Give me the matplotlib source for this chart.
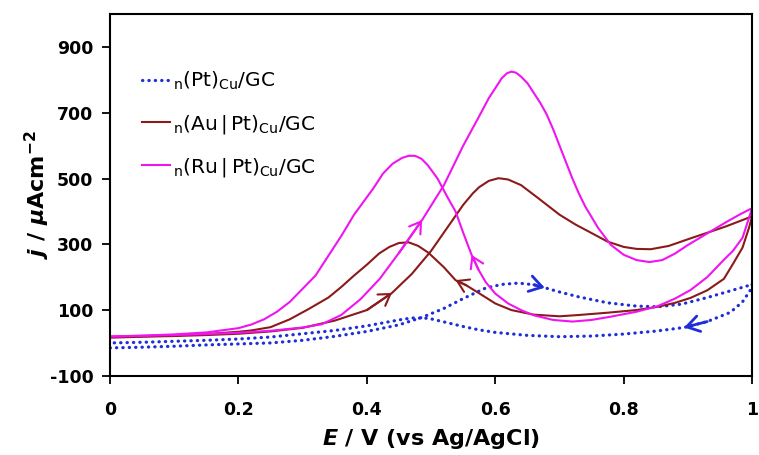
import matplotlib
matplotlib.use('Agg')
import matplotlib.pyplot as plt
from matplotlib.patches import FancyArrowPatch

plt.rcParams['font.family'] = ['DejaVu Sans']
plt.rcParams['mathtext.fontset'] = 'custom'
plt.rcParams['mathtext.rm'] = 'DejaVu Sans'
plt.rcParams['mathtext.it'] = 'DejaVu Sans:italic:bold'
plt.rcParams['mathtext.bf'] = 'DejaVu Sans:bold'
plt.rcParams['axes.unicode_minus'] = False

# ---- data ----
# n(Pt)Cu/GC
pt_fwd_E = [0.00, 0.05, 0.10, 0.15, 0.20, 0.25, 0.30, 0.35, 0.40, 0.45, 0.486, 0.52, 0.55, 0.585,
            0.61, 0.636, 0.66, 0.677, 0.70, 0.73, 0.775, 0.82, 0.853, 0.89, 0.93, 0.96, 0.99, 1.00]
pt_fwd_j = [-15, -13, -10, -6, -3, 0, 8, 20, 35, 55, 78, 105, 135, 167,
            178, 182, 177, 168, 155, 140, 122, 112, 110, 118, 138, 155, 172, 178]
pt_rev_E = [1.00, 0.997, 0.985, 0.966, 0.93, 0.894, 0.85, 0.80, 0.75, 0.70, 0.65, 0.60, 0.574,
            0.55, 0.522, 0.496, 0.47, 0.45, 0.40, 0.35, 0.30, 0.25, 0.20, 0.15, 0.10, 0.05, 0.00]
pt_rev_j = [178, 160, 125, 93, 65, 47, 36, 27, 21, 19, 23, 32, 40,
            50, 63, 75, 76, 70, 52, 38, 28, 18, 12, 8, 5, 2, 0]

# n(Au|Pt)Cu/GC
au_fwd_E = [0.00, 0.05, 0.10, 0.15, 0.20, 0.25, 0.30, 0.35, 0.40, 0.439, 0.47, 0.50, 0.525, 0.55,
            0.565, 0.575, 0.59, 0.605, 0.62, 0.64, 0.667, 0.70, 0.725, 0.75, 0.775, 0.80, 0.82,
            0.842, 0.87, 0.904, 0.93, 0.96, 0.98, 1.00]
au_fwd_j = [16, 19, 21, 24, 28, 35, 46, 68, 100, 152, 210, 280, 350, 420,
            455, 474, 493, 501, 497, 480, 440, 390, 360, 334, 308, 292, 286,
            285, 295, 318, 335, 355, 370, 385]
au_rev_E = [1.00, 0.995, 0.985, 0.97, 0.956, 0.93, 0.904, 0.88, 0.853, 0.82, 0.775, 0.73, 0.70,
            0.66, 0.625, 0.60, 0.574, 0.555, 0.538, 0.52, 0.496, 0.48, 0.465, 0.45, 0.435, 0.419,
            0.40, 0.38, 0.36, 0.34, 0.31, 0.28, 0.25, 0.22, 0.20, 0.15, 0.10, 0.05, 0.00]
au_rev_j = [385, 350, 290, 240, 195, 160, 137, 122, 110, 100, 92, 85, 81,
            86, 100, 120, 152, 175, 191, 230, 274, 295, 306, 304, 292, 272,
            238, 205, 170, 138, 104, 72, 48, 38, 34, 27, 23, 20, 18]

# n(Ru|Pt)Cu/GC
ru_fwd_E = [0.00, 0.05, 0.10, 0.15, 0.20, 0.25, 0.30, 0.33, 0.36, 0.39, 0.42, 0.45, 0.486, 0.52,
            0.55, 0.575, 0.59, 0.60, 0.61, 0.618, 0.625, 0.632, 0.64, 0.65, 0.66, 0.67, 0.68,
            0.69, 0.70, 0.71, 0.72, 0.73, 0.74, 0.76, 0.78, 0.80, 0.82, 0.84, 0.86, 0.88, 0.90,
            0.93, 0.96, 0.98, 1.00]
ru_fwd_j = [20, 22, 24, 27, 31, 37, 47, 57, 85, 133, 195, 274, 374, 480,
            600, 690, 745, 775, 805, 820, 825, 822, 810, 790, 760, 730, 695,
            650, 600, 550, 500, 455, 415, 350, 298, 268, 252, 246, 252, 272, 298,
            333, 368, 390, 410]
ru_rev_E = [1.00, 0.995, 0.985, 0.97, 0.956, 0.93, 0.904, 0.88, 0.853, 0.82, 0.78, 0.75, 0.72,
            0.69, 0.66, 0.64, 0.62, 0.60, 0.585, 0.574, 0.563, 0.55, 0.538, 0.525, 0.51, 0.495,
            0.485, 0.475, 0.465, 0.455, 0.44, 0.425, 0.41, 0.395, 0.38, 0.36, 0.34, 0.32, 0.30,
            0.28, 0.26, 0.24, 0.22, 0.20, 0.15, 0.10, 0.05, 0.00]
ru_rev_j = [410, 380, 320, 280, 253, 200, 161, 135, 112, 95, 80, 70, 65,
            70, 84, 100, 120, 150, 185, 222, 268, 335, 400, 445, 500, 540,
            560, 569, 569, 563, 545, 515, 470, 430, 390, 325, 265, 205, 165,
            125, 95, 72, 56, 45, 32, 26, 22, 19]

labels = [r'$_{\mathregular{n}}$(Pt)$_{\mathregular{Cu}}$/GC',
          r'$_{\mathregular{n}}$(Au$\,$|$\,$Pt)$_{\mathregular{Cu}}$/GC',
          r'$_{\mathregular{n}}$(Ru$\,$|$\,$Pt)$_{\mathregular{Cu}}$/GC']

c_pt = '#1f2fd8'
c_au = '#8b1a1a'
c_ru = '#f014f0'

fig = plt.figure(figsize=(7.59, 4.55), dpi=100)
ax = fig.add_axes([0.145, 0.174, 0.846, 0.795])

dots = (0, (0.1, 1.9))
ax.plot(pt_fwd_E, pt_fwd_j, color=c_pt, lw=2.3, linestyle=dots, dash_capstyle='round', label=labels[0])
ax.plot(pt_rev_E, pt_rev_j, color=c_pt, lw=2.3, linestyle=dots, dash_capstyle='round')
ax.plot(au_fwd_E, au_fwd_j, color=c_au, lw=1.5, label=labels[1])
ax.plot(au_rev_E, au_rev_j, color=c_au, lw=1.5)
ax.plot(ru_fwd_E, ru_fwd_j, color=c_ru, lw=1.5, label=labels[2])
ax.plot(ru_rev_E, ru_rev_j, color=c_ru, lw=1.5)

# scan-direction arrowheads, placed on a data point and pointing along the scan
def arrow(xs, ys, i, color, lw=1.5, size=13):
    p = FancyArrowPatch((xs[i - 1], ys[i - 1]), (xs[i], ys[i]),
                        arrowstyle='->,head_length=0.6,head_width=0.38',
                        mutation_scale=size, color=color, lw=lw,
                        shrinkA=0, shrinkB=0)
    ax.add_patch(p)

arrow(pt_fwd_E, pt_fwd_j, pt_fwd_E.index(0.677), c_pt, lw=2.0, size=15)
arrow(pt_rev_E, pt_rev_j, pt_rev_E.index(0.894), c_pt, lw=2.0, size=15)
arrow(au_fwd_E, au_fwd_j, au_fwd_E.index(0.439), c_au)
arrow(au_rev_E, au_rev_j, au_rev_E.index(0.538), c_au)
arrow(ru_fwd_E, ru_fwd_j, ru_fwd_E.index(0.486), c_ru)
arrow(ru_rev_E, ru_rev_j, ru_rev_E.index(0.563), c_ru)

ax.set_xlim(0, 1)
ax.set_ylim(-100, 1000)
ax.set_xticks([0, 0.2, 0.4, 0.6, 0.8, 1])
ax.set_xticklabels(['0', '0.2', '0.4', '0.6', '0.8', '1'])
ax.set_yticks([-100, 100, 300, 500, 700, 900])

for s in ax.spines.values():
    s.set_linewidth(1.5)
ax.tick_params(direction='out', length=6, width=1.3, labelsize=12.5)
ax.tick_params(axis='x', pad=12)
ax.tick_params(axis='y', pad=6)
for t in ax.get_xticklabels() + ax.get_yticklabels():
    t.set_fontweight('bold')

ax.set_xlabel(r'$\mathit{E}$ / V (vs Ag/AgCl)', fontsize=16, fontweight='bold', labelpad=6)
ax.set_ylabel(r'$\mathit{j}$ / $\mathit{\mu}$Acm$^{\mathregular{-2}}$', fontsize=16, fontweight='bold', labelpad=-2)

ax.legend(loc='upper left', bbox_to_anchor=(0.05, 0.845), frameon=False, fontsize=14.5,
          handlelength=1.4, handletextpad=0.15, labelspacing=1.0, borderpad=0, borderaxespad=0)

fig.savefig('out.png', dpi=100)
